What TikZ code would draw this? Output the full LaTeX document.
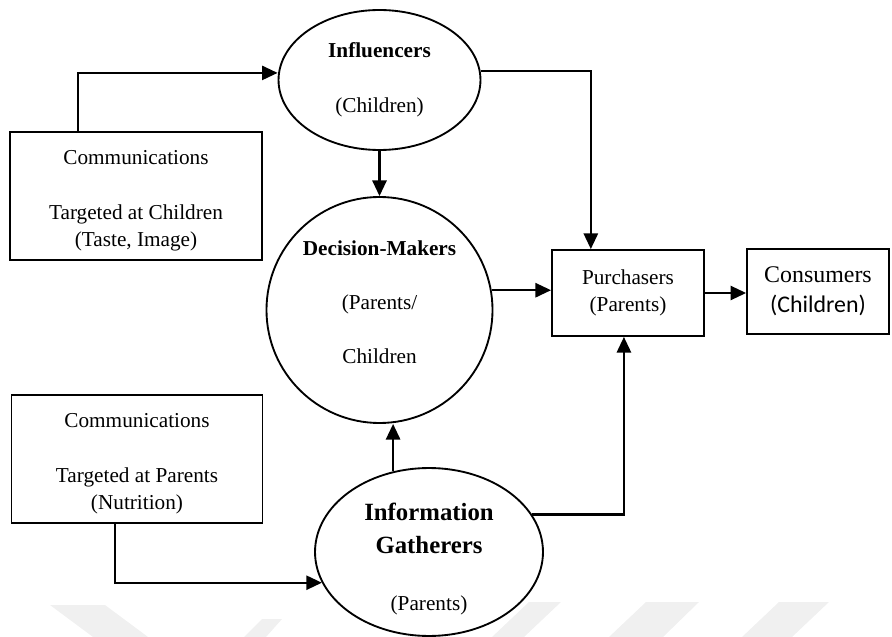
\documentclass[tikz,border=0pt]{standalone}
\usepackage{fontspec}
\setmainfont{Liberation Serif}
\newfontfamily\calibrifont{Carlito}
\usetikzlibrary{arrows.meta,shapes.geometric}

\begin{document}
\begin{tikzpicture}[x=0.565pt, y=-0.565pt,
  txt/.style={align=center, inner sep=0pt, font=\fontsize{12}{15.5}\selectfont},
  base/.style={draw, line width=1.05pt, inner sep=0pt, txt},
  box/.style={base, rectangle},
  oval/.style={base, ellipse},
  arr/.style={line width=1.2pt, -{Triangle[length=8.8pt,width=8pt]}},
  stripe/.style={fill=black!6, draw=none}]

\useasboundingbox (0,0) rectangle (892,637);

% faint background stripes along the lower edge
\fill[stripe] (50,605) -- (105,605) -- (148,637) -- (93,637) -- cycle;
\fill[stripe] (262,619) -- (282,619) -- (266,637) -- (244,637) -- cycle;
\fill[stripe] (529,602) -- (561,602) -- (524,637) -- (492,637) -- cycle;
\fill[stripe] (646,602) -- (699,602) -- (663,637) -- (609,637) -- cycle;
\fill[stripe] (779,602) -- (829,602) -- (792,637) -- (742,637) -- cycle;

% communication boxes
\node[box, minimum width=142.4pt, minimum height=72.3pt,
      label={[txt, yshift=-2.8pt]center:{Communications\\[15.5pt]Targeted at Children\\(Taste, Image)}}]
  (commA) at (136,196) {};
\node[box, minimum width=141.8pt, minimum height=72.3pt,
      label={[txt, yshift=-2.8pt]center:{Communications\\[15.5pt]Targeted at Parents\\(Nutrition)}}]
  (commB) at (137,459) {};

% roles
\node[oval, minimum width=114.1pt, minimum height=79.1pt] (infl) at (379.5,80)
  {\textbf{Influencers}\\[15.5pt](Children)};
\node[base, circle, minimum size=127.7pt,
      label={[txt, yshift=4.5pt]center:{\textbf{Decision-Makers}\\[15pt](Parents/\\[15pt]Children}}]
  (dm) at (379.5,310) {};
\node[oval, minimum width=128.8pt, minimum height=94.9pt,
      label={[txt, yshift=-3.8pt]center:{\fontsize{14}{18.6}\selectfont\bfseries Information\\[3.1pt]
        \fontsize{14}{18.6}\selectfont\bfseries Gatherers\\[16.8pt]
        \fontsize{12}{15.5}\selectfont (Parents)}}]
  (ig) at (429,552) {};

\node[box, minimum width=85.9pt, minimum height=48.6pt] (pur) at (628,293)
  {Purchasers\\(Parents)};
\node[box, minimum width=80.2pt, minimum height=48pt,
      font=\fontsize{13.5}{17}\selectfont] (con) at (818,291.5)
  {Consumers\\{\calibrifont (Children)}};

% connectors
\draw[arr] ([xshift=39pt]commA.north west) |- ([yshift=4pt]infl.west);
\draw[arr] (infl.south) -- (dm.north);
\draw[arr] ([yshift=5pt]infl.east) -| ([xshift=-21pt]pur.north);
\draw[arr] (dm.10) -- (dm.10 -| pur.west);
\draw[arr] (pur.east) -- (pur.east -| con.west);
\draw[arr] (ig.114) -- (ig.114 |- dm.south);
\draw[arr] (ig.20) -| ([xshift=-2.3pt]pur.south);
\draw[arr] ([xshift=59pt]commB.south west) |- (ig.196);

\end{tikzpicture}
\end{document}
